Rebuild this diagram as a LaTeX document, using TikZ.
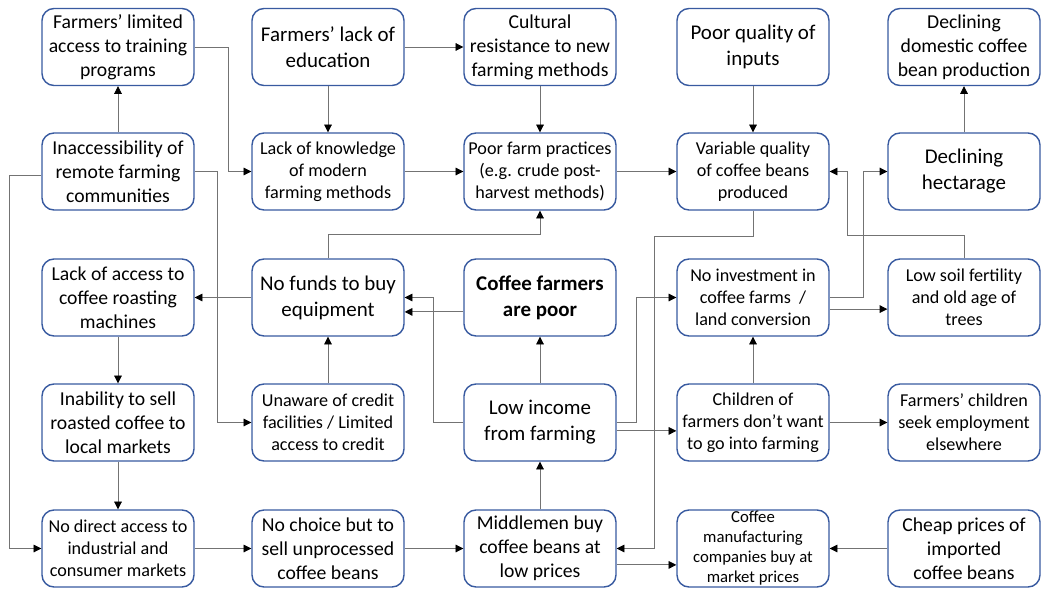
\documentclass[tikz,border=0pt]{standalone}
\usepackage{fontspec}
\setmainfont{Carlito}
\usetikzlibrary{arrows.meta}
\definecolor{boxblue}{RGB}{56,90,160}

\begin{document}
\begin{tikzpicture}[
    box/.style={draw=boxblue, line width=1pt, rounded corners=0.3cm, fill=white, minimum width=3.8cm, minimum height=1.925cm, inner sep=0pt, align=center},
    txtL/.style={font=\fontsize{14.9}{18.5}\selectfont},
    txtM/.style={font=\fontsize{14}{17}\selectfont},
    txtS/.style={font=\fontsize{12.9}{15.6}\selectfont},
    txtXS/.style={font=\fontsize{11.9}{14.2}\selectfont},
    arr/.style={draw=black!55, line width=0.6pt, -{Triangle[length=5.5pt,width=5.5pt,color=black]}}
    ]
    \useasboundingbox (0,0) rectangle (26.05,-14.725);

    %boxes
    \node[box,txtM] (lim) at (2.95,-1.175) {Farmers’ limited\\access to training\\programs};
    \node[box,txtL] (edu) at (8.2,-1.175) {Farmers’ lack of\\education};
    \node[box,txtM] (cult) at (13.5,-1.175) {Cultural\\resistance to new\\farming methods};
    \node[box,txtL] (inp) at (18.825,-1.175) {Poor quality of\\inputs};
    \node[box,txtM] (dom) at (24.1,-1.175) {Declining\\domestic coffee\\bean production};

    \node[box,txtM] (inacc) at (2.95,-4.2875) {Inaccessibility of\\remote farming\\communities};
    \node[box,txtS] (know) at (8.2,-4.2875) {Lack of knowledge\\of modern\\farming methods};
    \node[box,txtS] (prac) at (13.5,-4.2875) {Poor farm practices\\(e.g. crude post-\\harvest methods)};
    \node[box,txtS] (var) at (18.825,-4.2875) {Variable quality\\of coffee beans\\produced};
    \node[box,txtL] (hect) at (24.1,-4.2875) {Declining\\hectarage};

    \node[box,txtM] (roast) at (2.95,-7.4375) {Lack of access to\\coffee roasting\\machines};
    \node[box,txtL] (funds) at (8.2,-7.4375) {No funds to buy\\equipment};
    \node[box,txtL] (poor) at (13.5,-7.4375) {\bfseries Coffee farmers\\\bfseries are poor};
    \node[box,txtS] (inv) at (18.825,-7.4375) {No investment in\\coffee farms~ /\\land conversion};
    \node[box,txtS] (soil) at (24.1,-7.4375) {Low soil fertility\\and old age of\\trees};

    \node[box,txtM] (sell) at (2.95,-10.5625) {Inability to sell\\roasted coffee to\\local markets};
    \node[box,txtS] (cred) at (8.2,-10.5625) {Unaware of credit\\facilities / Limited\\access to credit};
    \node[box,txtL] (inc) at (13.5,-10.5625) {Low income\\from farming};
    \node[box,txtS] (child) at (18.825,-10.5625) {Children of\\farmers don’t want\\to go into farming};
    \node[box,txtS] (emp) at (24.1,-10.5625) {Farmers’ children\\seek employment\\elsewhere};

    \node[box,txtS] (direct) at (2.95,-13.7125) {No direct access to\\industrial and\\consumer markets};
    \node[box,txtM] (choice) at (8.2,-13.7125) {No choice but to\\sell unprocessed\\coffee beans};
    \node[box,txtM] (midl) at (13.5,-13.7125) {Middlemen buy\\coffee beans at\\low prices};
    \node[box,txtXS] (manu) at (18.825,-13.7125) {Coffee\\manufacturing\\companies buy at\\market prices};
    \node[box,txtM] (cheap) at (24.1,-13.7125) {Cheap prices of\\imported\\coffee beans};

    %arrows
    \draw[arr] (inacc) -- (lim);
    \draw[arr] (lim.east) -- ++(0.85,0) |- (know.west);
    \draw[arr] (edu) -- (know);
    \draw[arr] (edu) -- (cult);
    \draw[arr] (cult) -- (prac);
    \draw[arr] (know) -- (prac);
    \draw[arr] (prac) -- (var);
    \draw[arr] (inp) -- (var);
    \draw[arr] (hect) -- (dom);
    \draw[arr] ([yshift=-0.11cm]inacc.west) -- ++(-0.8,0) |- (direct.west);
    \draw[arr] (inacc.east) -- ++(0.575,0) |- (cred.west);
    \draw[arr] (funds.north) -- ++(0,0.6) -| (prac.south);
    \draw[arr] (var.south) -- ++(0,-0.65) -- ++(-2.475,0) |- (midl.east);
    \draw[arr] (soil.north) -- ++(0,0.575) -- ++(-2.925,0) |- (var.east);
    \draw[arr] (inv.east) -- ++(0.85,0) |- (hect.west);
    \draw[arr] ([yshift=-0.29cm]inv.east) -- ([yshift=-0.29cm]soil.west);
    \draw[arr] (funds) -- (roast);
    \draw[arr] (roast) -- (sell);
    \draw[arr] (sell) -- (direct);
    \draw[arr] (cred) -- (funds);
    \draw[arr] (inc.west) -- ++(-0.75,0) |- (funds.east);
    \draw[arr] ([yshift=-0.36cm]poor.west) -- ([yshift=-0.36cm]funds.east);
    \draw[arr] (inc) -- (poor);
    \draw[arr] (inc.east) -- ++(0.5,0) |- (inv.west);
    \draw[arr] ([yshift=-0.21cm]inc.east) -- ([yshift=-0.21cm]child.west);
    \draw[arr] (child) -- (inv);
    \draw[arr] (child) -- (emp);
    \draw[arr] (midl) -- (inc);
    \draw[arr] ([yshift=-0.41cm]midl.east) -- ([yshift=-0.41cm]manu.west);
    \draw[arr] (cheap) -- (manu);
    \draw[arr] (choice) -- (midl);
    \draw[arr] (direct) -- (choice);

\end{tikzpicture}
\end{document}
